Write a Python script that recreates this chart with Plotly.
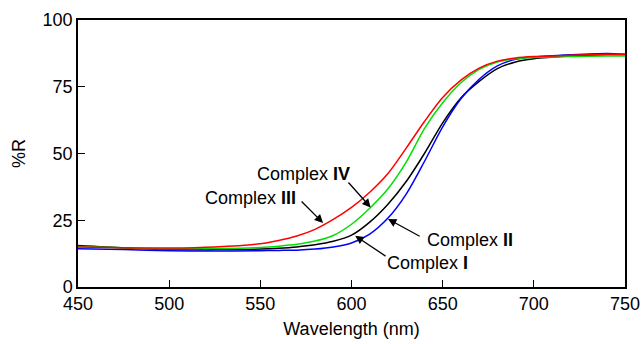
import plotly.graph_objects as go

wavelength = [450, 475, 500, 525, 550, 560, 570, 580, 590, 600, 610, 620, 630, 640,
              650, 660, 670, 680, 690, 700, 720, 740, 750]

# Complex III (red)
r_red = [15.0, 14.7, 14.6, 15.0, 16.2, 17.4, 19.1, 21.6, 25.3, 29.8, 35.5, 42.5, 52.0, 62.0,
         71.0, 77.5, 82.0, 84.6, 85.8, 86.3, 86.8, 87.2, 87.2]
# Complex IV (green)
r_green = [15.2, 14.7, 14.3, 14.4, 14.8, 15.3, 16.0, 17.2, 19.3, 23.5, 29.5, 36.8, 46.8, 59.3,
           69.0, 76.5, 81.5, 84.3, 85.5, 86.0, 86.3, 86.5, 86.5]
# Complex I (black)
r_black = [15.5, 14.6, 14.0, 14.0, 14.2, 14.5, 15.0, 15.8, 17.1, 19.4, 24.3, 31.0, 39.5, 50.0,
           61.5, 70.8, 77.0, 81.8, 84.3, 85.5, 86.5, 87.0, 87.0]
# Complex II (blue)
r_blue = [14.3, 14.0, 13.6, 13.5, 13.6, 13.7, 13.8, 14.2, 15.0, 16.5, 19.8, 25.8, 34.8, 47.0,
          60.0, 70.5, 77.8, 82.8, 85.3, 86.2, 87.0, 87.5, 87.2]

x_ticks = [450, 500, 550, 600, 650, 700, 750]
y_ticks = [0, 25, 50, 75, 100]

FONT = "Liberation Sans, Arial, sans-serif"

fig = go.Figure()
for name, ys, col in [("Complex I", r_black, "#000000"),
                      ("Complex II", r_blue, "#0000ff"),
                      ("Complex IV", r_green, "#00e000"),
                      ("Complex III", r_red, "#ff0000")]:
    fig.add_trace(go.Scatter(x=wavelength, y=ys, mode="lines", name=name,
                             line=dict(color=col, width=1.5, shape="spline", smoothing=0.8)))

# arrows (tip, tail)
arrows = [
    ((584.4, 24.0), (571.8, 32.6)),   # III
    ((610.5, 29.8), (597.6, 39.7)),   # IV
    ((620.0, 25.5), (638.2, 18.7)),   # II
    ((602.0, 19.2), (619.5, 11.2)),   # I
]
for (tx, ty), (ax, ay) in arrows:
    fig.add_annotation(x=tx, y=ty, ax=ax, ay=ay, xref="x", yref="y", axref="x", ayref="y",
                       text="", showarrow=True, arrowhead=2, arrowsize=1.3, arrowwidth=1.3,
                       arrowcolor="black")

labels = [
    ("Complex <b>III</b>", 570.7, 33.3, "right"),
    ("Complex <b>IV</b>", 600.3, 42.3, "right"),
    ("Complex <b>II</b>", 640.3, 17.6, "left"),
    ("Complex <b>I</b>", 618.4, 9.0, "left"),
]
for txt, lx, ly, anc in labels:
    fig.add_annotation(x=lx, y=ly, xref="x", yref="y", text=txt, showarrow=False,
                       xanchor=anc, yanchor="middle", font=dict(size=18, color="black", family=FONT))

fig.update_layout(
    width=643, height=344,
    margin=dict(l=78, r=18, t=20, b=57, autoexpand=False),
    paper_bgcolor="white", plot_bgcolor="white",
    showlegend=False,
    font=dict(family=FONT, size=18, color="black"),
)
fig.update_xaxes(range=[450, 750], tickvals=x_ticks, ticks="inside", ticklen=7, tickwidth=1,
                 tickcolor="black", showline=True, linecolor="black", linewidth=1.5, mirror=True,
                 showgrid=False, zeroline=False, automargin=False,
                 title=dict(text="Wavelength (nm)", font=dict(size=18), standoff=9),
                 tickfont=dict(size=18))
fig.update_yaxes(range=[0, 100], tickvals=y_ticks, ticks="inside", ticklen=7, tickwidth=1,
                 tickcolor="black", showline=True, linecolor="black", linewidth=1.5, mirror=True,
                 showgrid=False, zeroline=False, automargin=False,
                 title=dict(text="%R", font=dict(size=18), standoff=12),
                 tickfont=dict(size=18))

fig.write_html("out.html", config={"displayModeBar": False},
               post_script="document.body.style.margin='0';document.body.style.overflow='hidden';")
